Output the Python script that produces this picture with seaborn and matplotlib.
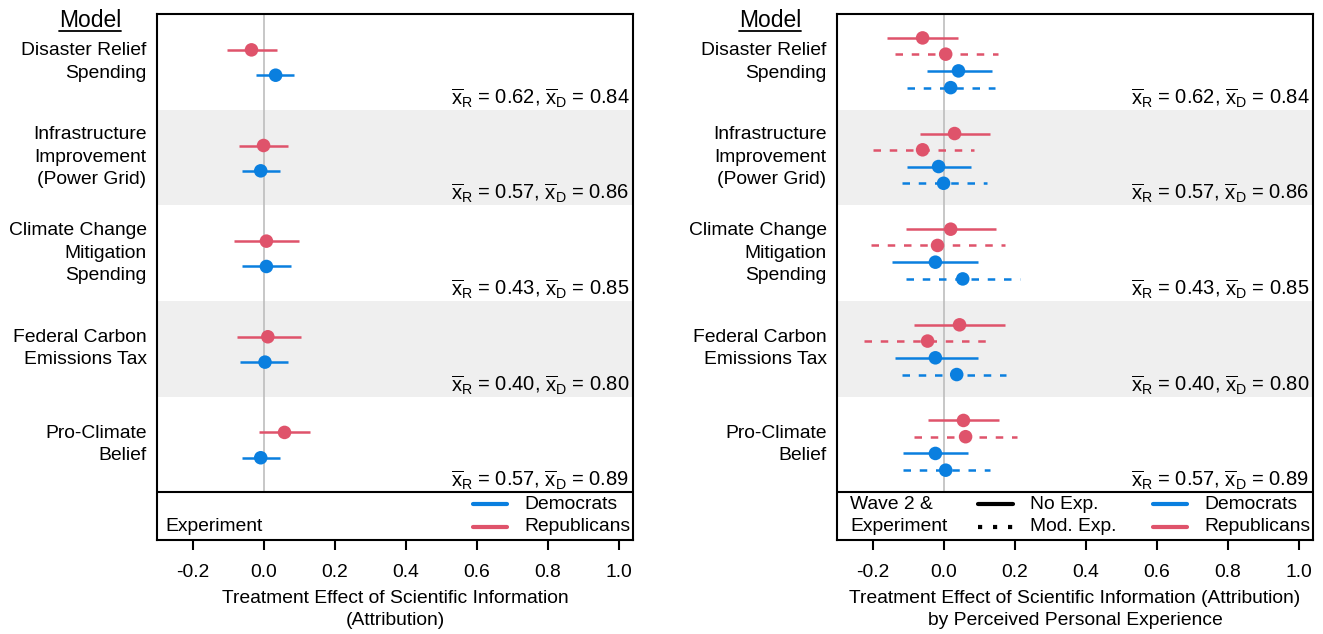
import matplotlib
matplotlib.use("Agg")
import matplotlib.pyplot as plt
import seaborn as sns
import pandas as pd
import numpy as np
from matplotlib.lines import Line2D

sns.set_theme(style="white")
plt.rcParams['font.family'] = ['Liberation Sans', 'DejaVu Sans']
plt.rcParams['mathtext.fontset'] = 'custom'
plt.rcParams['mathtext.rm'] = 'Liberation Sans'
plt.rcParams['mathtext.it'] = 'Liberation Sans:italic'
plt.rcParams['mathtext.bf'] = 'Liberation Sans:bold'
plt.rcParams['text.color'] = 'black'
plt.rcParams['axes.labelcolor'] = 'black'
plt.rcParams['xtick.color'] = 'black'
plt.rcParams['ytick.color'] = 'black'

# ---------------- data ----------------
models = ["Disaster Relief\nSpending", "Infrastructure\nImprovement\n(Power Grid)",
          "Climate Change\nMitigation\nSpending", "Federal Carbon\nEmissions Tax",
          "Pro-Climate\nBelief"]
mean_R = ["0.62", "0.57", "0.43", "0.40", "0.57"]
mean_D = ["0.84", "0.86", "0.85", "0.80", "0.89"]

# Left panel: Experiment
left_rep_est = [-0.034, 0.000, 0.008, 0.012, 0.059]
left_rep_lo = [-0.104, -0.070, -0.084, -0.075, -0.012]
left_rep_hi = [0.037, 0.070, 0.100, 0.104, 0.130]
left_dem_est = [0.034, -0.008, 0.008, 0.004, -0.008]
left_dem_lo = [-0.020, -0.062, -0.062, -0.065, -0.062]
left_dem_hi = [0.087, 0.045, 0.078, 0.070, 0.045]

# Right panel: Wave 2 & Experiment by perceived personal experience
r_rep_no_est = [-0.059, 0.031, 0.020, 0.045, 0.056]
r_rep_no_lo = [-0.158, -0.065, -0.107, -0.082, -0.045]
r_rep_no_hi = [0.042, 0.130, 0.149, 0.172, 0.155]
r_rep_mod_est = [0.006, -0.059, -0.017, -0.045, 0.062]
r_rep_mod_lo = [-0.138, -0.200, -0.203, -0.225, -0.082]
r_rep_mod_hi = [0.152, 0.085, 0.172, 0.138, 0.208]
r_dem_no_est = [0.042, -0.014, -0.023, -0.023, -0.023]
r_dem_no_lo = [-0.048, -0.104, -0.144, -0.138, -0.115]
r_dem_no_hi = [0.135, 0.076, 0.096, 0.096, 0.070]
r_dem_mod_est = [0.020, 0.000, 0.054, 0.037, 0.006]
r_dem_mod_lo = [-0.104, -0.118, -0.107, -0.118, -0.115]
r_dem_mod_hi = [0.144, 0.121, 0.214, 0.175, 0.132]

xticks = [-0.2, 0.0, 0.2, 0.4, 0.6, 0.8, 1.0]
xticklabels = ["-0.2", "0.0", "0.2", "0.4", "0.6", "0.8", "1.0"]

BLUE = "#0A7FDF"
RED = "#DF536B"
FS = 13.9

fig = plt.figure(figsize=(13.23, 6.34), dpi=100)
W, H = 1323, 634
def axpos(x0):
    return [x0 / W, 1 - 540 / H, 476 / W, 526 / H]
axL = fig.add_axes(axpos(157))
axR = fig.add_axes(axpos(837))

def setup(ax, xlabel):
    ax.set_xlim(-0.3, 1.04)
    ax.set_ylim(5.5, 0)
    for i in range(5):
        if i % 2 == 1:
            ax.axhspan(i, i + 1, color="#EFEFEF", lw=0, zorder=0)
    ax.axvline(0, ymin=0.5 / 5.5, ymax=1, color="#BDBDBD", lw=1.2, zorder=1)
    ax.axhline(5, color="black", lw=1.5, zorder=3)
    for s in ax.spines.values():
        s.set_color("black")
        s.set_linewidth(1.5)
    ax.set_yticks([])
    ax.set_xticks(xticks)
    ax.set_xticklabels(xticklabels, fontsize=FS)
    ax.tick_params(axis="x", direction="out", length=7.5, width=1.5, color="black",
                   bottom=True, pad=10, labelcolor="black")
    ax.set_xlabel(xlabel, fontsize=FS, labelpad=6, linespacing=1.45)
    for i in range(5):
        ax.text(1.03, i + 0.88,
                r"$\overline{\mathrm{x}}_\mathrm{R}$ = " + mean_R[i] +
                r", $\overline{\mathrm{x}}_\mathrm{D}$ = " + mean_D[i],
                ha="right", va="center", fontsize=FS + 0.6)
        ax.text(-0.022, i + 0.5, models[i], transform=ax.get_yaxis_transform(),
                ha="right", va="center", fontsize=FS, linespacing=1.42)
    t = ax.text(-0.14, 0.065, "Model", transform=ax.get_yaxis_transform(),
                ha="center", va="center", fontsize=16.5)
    return t

def draw(ax, est, lo, hi, offs, color, ls):
    ys = [i + offs for i in range(5)]
    df = pd.DataFrame({"est": est, "y": ys})
    ax.hlines(ys, lo, hi, color=color, lw=1.8, linestyles=[ls], zorder=4)
    sns.scatterplot(data=df, x="est", y="y", ax=ax, color=color, s=95,
                    edgecolor="none", zorder=5, legend=False)

tL = setup(axL, "Treatment Effect of Scientific Information\n(Attribution)")
tR = setup(axR, "Treatment Effect of Scientific Information (Attribution)\nby Perceived Personal Experience")

draw(axL, left_rep_est, left_rep_lo, left_rep_hi, 0.375, RED, "solid")
draw(axL, left_dem_est, left_dem_lo, left_dem_hi, 0.64, BLUE, "solid")

dash = (0, (3, 3.5))
draw(axR, r_rep_no_est, r_rep_no_lo, r_rep_no_hi, 0.25, RED, "solid")
draw(axR, r_rep_mod_est, r_rep_mod_lo, r_rep_mod_hi, 0.42, RED, dash)
draw(axR, r_dem_no_est, r_dem_no_lo, r_dem_no_hi, 0.595, BLUE, "solid")
draw(axR, r_dem_mod_est, r_dem_mod_lo, r_dem_mod_hi, 0.77, BLUE, dash)

for ax in (axL, axR):
    ax.set_ylabel("")

# legends (drawn inside bottom strip)
def xdata(px, ax0):
    return (px - ax0) / 476 * 1.34 - 0.3

for ax, x0 in ((axL, 157), (axR, 837)):
    for yy, col, lab in ((5.125, BLUE, "Democrats"), (5.36, RED, "Republicans")):
        ax.plot([xdata(x0 + 316, x0), xdata(x0 + 350, x0)], [yy, yy], color=col, lw=3, zorder=6)
        ax.text(xdata(x0 + 367, x0), yy, lab, ha="left", va="center", fontsize=FS)

axL.text(xdata(165, 157), 5.36, "Experiment", ha="left", va="center", fontsize=FS)
axR.text(xdata(850, 837), 5.125, "Wave 2 &", ha="left", va="center", fontsize=FS)
axR.text(xdata(850, 837), 5.36, "Experiment", ha="left", va="center", fontsize=FS)
axR.plot([xdata(978, 837), xdata(1013, 837)], [5.125, 5.125], color="black", lw=3, zorder=6)
axR.plot([xdata(978, 837), xdata(1013, 837)], [5.36, 5.36], color="black", lw=3,
         linestyle=(0, (1, 2.6)), zorder=6)
axR.text(xdata(1030, 837), 5.125, "No Exp.", ha="left", va="center", fontsize=FS)
axR.text(xdata(1030, 837), 5.36, "Mod. Exp.", ha="left", va="center", fontsize=FS)

# underline "Model"
fig.canvas.draw()
r = fig.canvas.get_renderer()
for t in (tL, tR):
    bb = t.get_window_extent(r).transformed(fig.transFigure.inverted())
    fig.add_artist(Line2D([bb.x0, bb.x1], [bb.y0 + 0.001, bb.y0 + 0.001],
                          color="black", lw=1.3, transform=fig.transFigure))

fig.savefig("out.png", dpi=100)
